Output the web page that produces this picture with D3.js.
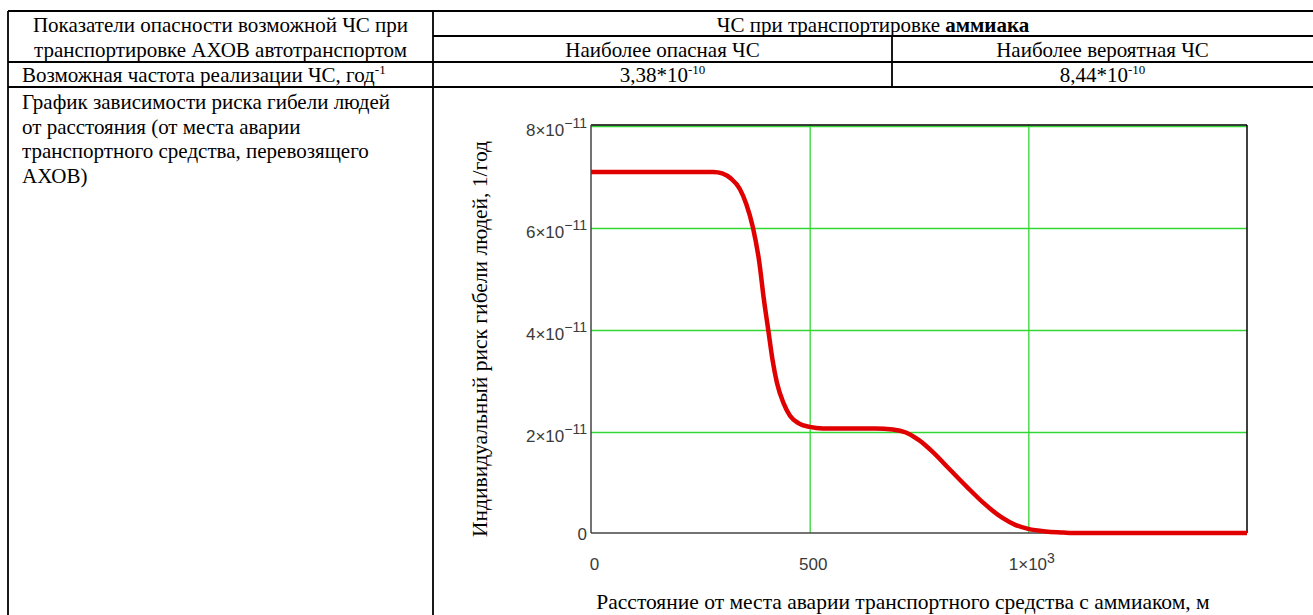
<!DOCTYPE html>
<html><head><meta charset="utf-8">
<script src="https://cdn.jsdelivr.net/npm/d3@7"></script>
<style>
html,body{margin:0;padding:0;background:#fff;overflow:hidden;}
svg{display:block;}
.serif{font-family:"Liberation Serif","DejaVu Serif","Noto Serif","Times New Roman",serif;}
.sans{font-family:"Liberation Sans",Arial,sans-serif;}
</style>
</head><body>
<svg id="c" width="1313" height="615"></svg>
<script>
// ---------- data ----------
const distance = [0, 100, 200, 280, 300, 320, 340, 355, 370, 385, 395, 405, 415, 425, 440, 455, 475, 500, 530, 600, 650, 690, 720, 750, 780, 820, 860, 900, 940, 970, 1000, 1040, 1080, 1100, 1500];
const risk = [7.08e-11, 7.08e-11, 7.08e-11, 7.08e-11, 7.05e-11, 6.95e-11, 6.75e-11, 6.45e-11, 6.0e-11, 5.3e-11, 4.6e-11, 4.0e-11, 3.4e-11, 2.95e-11, 2.55e-11, 2.3e-11, 2.15e-11, 2.08e-11, 2.05e-11, 2.05e-11, 2.05e-11, 2.03e-11, 1.97e-11, 1.82e-11, 1.6e-11, 1.25e-11, 0.9e-11, 0.57e-11, 0.3e-11, 0.16e-11, 0.08e-11, 0.03e-11, 0.01e-11, 0, 0];
const xTicks = [0, 500, 1000];
const xTickLabels = [["0", ""], ["500", ""], ["1×10", "3"]];
const yTicks = [0, 2e-11, 4e-11, 6e-11, 8e-11];
const yTickLabels = [["0", ""], ["2×10", "−11"], ["4×10", "−11"], ["6×10", "−11"], ["8×10", "−11"]];
const xDomain = [0, 1500];
const yDomain = [0, 8e-11];
const xTitle = "Расстояние от места аварии транспортного средства с аммиаком, м";
const yTitle = "Индивидуальный риск гибели людей, 1/год";

// table texts
const headLeft = ["Показатели опасности возможной ЧС при", "транспортировке АХОВ автотранспортом"];
const headRight = ["ЧС при транспортировке ", "аммиака"];
const subHeads = ["Наиболее опасная ЧС", "Наиболее вероятная ЧС"];
const freqLabel = ["Возможная частота реализации ЧС, год", "-1"];
const freqValues = [["3,38*10", "-10"], ["8,44*10", "-10"]];
const graphLabel = ["График зависимости риска гибели людей", "от расстояния (от места аварии", "транспортного средства, перевозящего", "АХОВ)"];

// ---------- drawing ----------
const svg = d3.select("#c");
const FS = "21px";
const FT = "21.5px";

// table lines
const T = {x0: 8, x1: 433, xm: 892, xr: 1313, y0: 11, y1: 36, y2: 62, y3: 87, yb: 615};
const lines = [
  [T.x0, T.y0, T.xr, T.y0],
  [T.x1, T.y1, T.xr, T.y1],
  [T.x0, T.y2, T.xr, T.y2],
  [T.x0, T.y3, T.xr, T.y3],
  [T.x0, T.y0, T.x0, T.yb],
  [T.x1, T.y0, T.x1, T.yb],
  [T.xm, T.y1, T.xm, T.y3]
];
svg.append("g").selectAll("line").data(lines).join("line")
  .attr("x1", d => d[0]).attr("y1", d => d[1]).attr("x2", d => d[2]).attr("y2", d => d[3])
  .attr("stroke", "#000").attr("stroke-width", 1.8);

const tg = svg.append("g").attr("class", "serif").style("font-size", FS).attr("fill", "#000");
tg.append("text").attr("x", (T.x0 + T.x1) / 2).attr("y", 32).attr("text-anchor", "middle").text(headLeft[0]);
tg.append("text").attr("x", (T.x0 + T.x1) / 2).attr("y", 57).attr("text-anchor", "middle").text(headLeft[1]);
const hr = tg.append("text").attr("x", (T.x1 + T.xr) / 2).attr("y", 32).attr("text-anchor", "middle");
hr.append("tspan").text(headRight[0]);
hr.append("tspan").style("font-weight", "bold").text(headRight[1]);
tg.append("text").attr("x", (T.x1 + T.xm) / 2).attr("y", 57).attr("text-anchor", "middle").text(subHeads[0]);
tg.append("text").attr("x", (T.xm + T.xr) / 2).attr("y", 57).attr("text-anchor", "middle").text(subHeads[1]);
const fl = tg.append("text").attr("x", 22).attr("y", 82);
fl.append("tspan").text(freqLabel[0]);
fl.append("tspan").attr("dy", -8).style("font-size", "13px").text(freqLabel[1]);
[(T.x1 + T.xm) / 2, (T.xm + T.xr) / 2].forEach((cx, i) => {
  const t = tg.append("text").attr("x", cx).attr("y", 82).attr("text-anchor", "middle");
  t.append("tspan").text(freqValues[i][0]);
  t.append("tspan").attr("dy", -8).style("font-size", "13px").text(freqValues[i][1]);
});
graphLabel.forEach((s, i) => {
  tg.append("text").attr("x", 22).attr("y", 109 + i * 24.5).text(s);
});

// chart
const P = {l: 591, r: 1247, t: 125, b: 533};
const x = d3.scaleLinear().domain(xDomain).range([P.l, P.r]);
const y = d3.scaleLinear().domain(yDomain).range([P.b, P.t]);
const green = "#33d633";

// grid
const gx = svg.append("g").attr("transform", `translate(0,${P.b})`)
  .call(d3.axisBottom(x).tickValues(xTicks.filter(v => v > 0)).tickSize(-(P.b - P.t)).tickFormat(""));
gx.select(".domain").remove();
gx.selectAll("line").attr("stroke", green).attr("stroke-width", 1.3);
const gyg = svg.append("g").attr("transform", `translate(${P.l},0)`)
  .call(d3.axisLeft(y).tickValues(yTicks.filter(v => v > 0)).tickSize(-(P.r - P.l)).tickFormat(""));
gyg.select(".domain").remove();
gyg.selectAll("line").attr("stroke", green).attr("stroke-width", 1.3).attr("transform", "translate(0,1)");

// frame
svg.append("line").attr("x1", P.l).attr("x2", P.r).attr("y1", P.t).attr("y2", P.t).attr("stroke", "#000").attr("stroke-width", 1.5);
svg.append("line").attr("x1", P.r).attr("x2", P.r).attr("y1", P.t).attr("y2", P.b).attr("stroke", "#000").attr("stroke-width", 1.5);
svg.append("line").attr("x1", P.l).attr("x2", P.l).attr("y1", P.t).attr("y2", P.b).attr("stroke", "#444").attr("stroke-width", 1.5);
svg.append("line").attr("x1", P.l).attr("x2", P.r).attr("y1", P.b).attr("y2", P.b).attr("stroke", "#444").attr("stroke-width", 1.5);

// axes labels
const ay = svg.append("g").attr("transform", `translate(${P.l},0)`)
  .call(d3.axisLeft(y).tickValues(yTicks).tickSize(0).tickPadding(4).tickFormat(""));
ay.select(".domain").remove();
ay.attr("font-family", null).attr("font-size", null).attr("class", "sans").style("font-size", "17px");
ay.selectAll(".tick text").attr("fill", "#3a3a3a").each(function (d, i) {
  const t = d3.select(this);
  const lab = yTickLabels[i];
  t.text(null).attr("dy", lab[1] ? "0.62em" : "0.4em");
  t.append("tspan").text(lab[0]);
  if (lab[1]) t.append("tspan").attr("dy", "-0.55em").style("font-size", "14px").text(lab[1]);
});
const ax = svg.append("g").attr("transform", `translate(0,${P.b})`)
  .call(d3.axisBottom(x).tickValues(xTicks).tickSize(0).tickPadding(25).tickFormat(""));
ax.select(".domain").remove();
ax.attr("font-family", null).attr("font-size", null).attr("class", "sans").style("font-size", "17px");
ax.selectAll(".tick text").attr("fill", "#3a3a3a").attr("dx", 3).each(function (d, i) {
  const t = d3.select(this);
  const lab = xTickLabels[i];
  t.text(null);
  t.append("tspan").text(lab[0]);
  if (lab[1]) t.append("tspan").attr("dy", "-0.5em").style("font-size", "14px").text(lab[1]);
});

// curve
const pts = distance.map((d, i) => [d, risk[i]]);
svg.append("path").datum(pts)
  .attr("fill", "none").attr("stroke", "#e00000").attr("stroke-width", 4.5)
  .attr("stroke-linejoin", "round")
  .attr("d", d3.line().x(d => x(d[0])).y(d => y(d[1])).curve(d3.curveMonotoneX));

// titles
svg.append("text").attr("class", "serif").style("font-size", FT)
  .attr("x", 903).attr("y", 609).attr("text-anchor", "middle").text(xTitle);
svg.append("text").attr("class", "serif").style("font-size", FT)
  .attr("transform", "translate(487,339) rotate(-90)").attr("text-anchor", "middle").text(yTitle);
</script>
</body></html>
